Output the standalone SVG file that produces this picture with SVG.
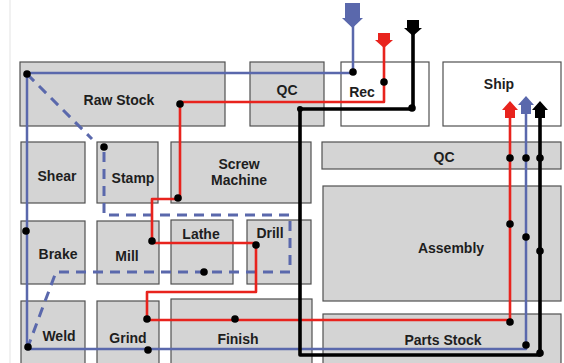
<svg xmlns="http://www.w3.org/2000/svg" width="564" height="363" viewBox="0 0 564 363">
<defs>
<style>
.box{fill:#d4d4d4;stroke:#505050;stroke-width:1.2}
.wbox{fill:#ffffff;stroke:#505050;stroke-width:1.2}
.lbl{font-family:"Liberation Sans",Arial,sans-serif;font-weight:bold;font-size:14px;fill:#1e1e1e;text-anchor:middle}
.blue{fill:none;stroke:#5a68ac;stroke-width:2.5;stroke-linejoin:round}
.dash{fill:none;stroke:#5a68ac;stroke-width:3;stroke-dasharray:10 7}
.red{fill:none;stroke:#e8231d;stroke-width:2.6;stroke-linejoin:round}
.blk{fill:none;stroke:#000;stroke-width:3.6;stroke-linejoin:round}
.dot{fill:#000}
</style>
</defs>
<rect width="564" height="363" fill="#ffffff"/>
<line x1="10" y1="0" x2="10" y2="363" stroke="#ececec" stroke-width="1.5"/>

<g id="raw-stock"><rect class="box" x="20" y="62" width="205" height="64"/><text class="lbl" x="119" y="105">Raw Stock</text></g>
<g id="qc-top"><rect class="box" x="250" y="62" width="74" height="64"/><text class="lbl" x="287" y="95">QC</text></g>
<g id="rec"><rect class="wbox" x="341" y="62" width="88" height="64"/><text class="lbl" x="362" y="97">Rec</text></g>
<g id="ship"><rect class="wbox" x="443" y="62" width="118" height="64"/><text class="lbl" x="499" y="89">Ship</text></g>
<g id="qc-right"><rect class="box" x="322" y="142" width="239" height="27"/><text class="lbl" x="444" y="162">QC</text></g>
<g id="shear"><rect class="box" x="21" y="142" width="64" height="61"/><text class="lbl" x="57" y="181">Shear</text></g>
<g id="stamp"><rect class="box" x="97" y="142" width="61" height="61"/><text class="lbl" x="133" y="183">Stamp</text></g>
<g id="screw-machine"><rect class="box" x="171" y="142" width="140" height="61"/><text class="lbl" x="239" y="169">Screw</text><text class="lbl" x="239" y="185">Machine</text></g>
<g id="brake"><rect class="box" x="21" y="221" width="64" height="63"/><text class="lbl" x="58" y="259">Brake</text></g>
<g id="mill"><rect class="box" x="97" y="221" width="62" height="63"/><text class="lbl" x="127" y="261">Mill</text></g>
<g id="lathe"><rect class="box" x="171" y="220" width="62" height="64"/><text class="lbl" x="201" y="239">Lathe</text></g>
<g id="drill"><rect class="box" x="247" y="220" width="64" height="64"/><text class="lbl" x="270" y="238">Drill</text></g>
<g id="assembly"><rect class="box" x="323" y="186" width="238" height="115"/><text class="lbl" x="451" y="253">Assembly</text></g>
<g id="weld"><rect class="box" x="21" y="301" width="64" height="70"/><text class="lbl" x="59" y="341">Weld</text></g>
<g id="grind"><rect class="box" x="97" y="301" width="62" height="70"/><text class="lbl" x="128" y="343">Grind</text></g>
<g id="finish"><rect class="box" x="171" y="299" width="141" height="72"/><text class="lbl" x="238" y="344">Finish</text></g>
<g id="parts-stock"><rect class="box" x="323" y="314" width="238" height="57"/><text class="lbl" x="443" y="345">Parts Stock</text></g>

<g id="connectors">
<path class="blue" d="M353,20 V73 H27 V349 H526 V110"/>
<path class="dash" d="M27,74 L92,139 M104,152 V215 H290 V272 H56 L29,344"/>
<path class="red" d="M384,44 V102 H180 V199 H152 V243 H256 V292 H147 V320 H510 V112"/>
<path class="blk" d="M413,32 V109 H300 V355 H540 V112"/>
<polygon fill="#5a68ac" points="345,3 360,3 360,18 363,18 352.5,28 342,18 345,18"/>
<polygon fill="#e8231d" points="378,33 390,33 390,40 393,40 384,48 375,40 378,40"/>
<polygon fill="#000" points="407,20 419,20 419,28 422,28 413,36 404,28 407,28"/>
<polygon fill="#e8231d" points="510,101 518,110 515,110 515,118 505,118 505,110 502,110"/>
<polygon fill="#5a68ac" points="526,96 534,105 531,105 531,114 521,114 521,105 518,105"/>
<polygon fill="#000" points="540,101 548,110 545,110 545,118 535,118 535,110 532,110"/>
<g class="dot">
<circle cx="27" cy="74" r="3.8"/><circle cx="353" cy="72" r="3.8"/><circle cx="104" cy="147" r="3.8"/>
<circle cx="26" cy="231" r="3.8"/><circle cx="28" cy="347" r="3.8"/><circle cx="148" cy="350" r="3.8"/>
<circle cx="526" cy="345" r="3.8"/><circle cx="526" cy="237" r="3.8"/><circle cx="526" cy="158" r="3.8"/>
<circle cx="204" cy="272" r="3.8"/>
<circle cx="384" cy="82" r="3.8"/><circle cx="180" cy="104" r="3.8"/><circle cx="178" cy="198" r="3.8"/>
<circle cx="152" cy="241" r="3.8"/><circle cx="256" cy="245" r="3.8"/><circle cx="147" cy="319" r="3.8"/>
<circle cx="235" cy="319" r="3.8"/><circle cx="510" cy="322" r="3.8"/><circle cx="510" cy="224" r="3.8"/>
<circle cx="510" cy="158" r="3.8"/>
<circle cx="412" cy="108" r="3.8"/><circle cx="300" cy="109" r="3"/><circle cx="540" cy="353" r="3.8"/>
<circle cx="540" cy="251" r="3.8"/><circle cx="540" cy="158" r="3.8"/>
</g>
</g>
</svg>
